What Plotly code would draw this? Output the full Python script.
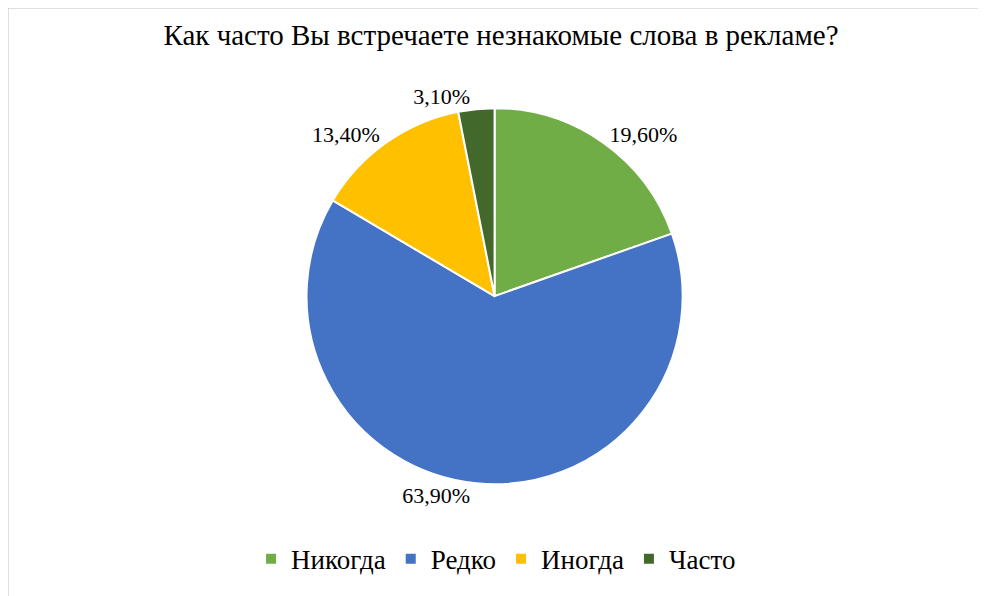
import plotly.graph_objects as go

labels = ["Никогда", "Редко", "Иногда", "Часто"]
values = [19.6, 63.9, 13.4, 3.1]
colors = ["#70AD47", "#4472C4", "#FFC000", "#43682B"]

SERIF = "Liberation Serif"

fig = go.Figure(go.Pie(
    labels=labels,
    values=values,
    sort=False,
    direction="clockwise",
    rotation=0,
    marker=dict(colors=colors, line=dict(color="white", width=2)),
    textposition="outside",
    texttemplate="%{value:.2f}%",
    textfont=dict(size=22, color="black", family=SERIF),
    hoverinfo="label+percent",
    domain=dict(x=[0.302, 0.685], y=[0.201, 0.832]),
    showlegend=True,
))

fig.update_layout(
    width=986, height=596,
    separators=", ",
    margin=dict(l=0, r=0, t=0, b=0),
    paper_bgcolor="white",
    font=dict(family=SERIF, color="black"),
    title=dict(text="Как часто Вы встречаете незнакомые слова в рекламе?",
               x=0.5, xanchor="center", y=0.955, yanchor="middle",
               font=dict(size=29, color="black", family=SERIF)),
    legend=dict(orientation="h", x=0.495, xanchor="center", y=0.075, yanchor="middle",
                font=dict(size=27, family=SERIF), itemwidth=30, traceorder="normal"),
    shapes=[dict(type="rect", xref="paper", yref="paper", x0=0, y0=0, x1=1, y1=1,
                 line=dict(color="#BFBFBF", width=1))],
)

fig.write_html("out.html")
